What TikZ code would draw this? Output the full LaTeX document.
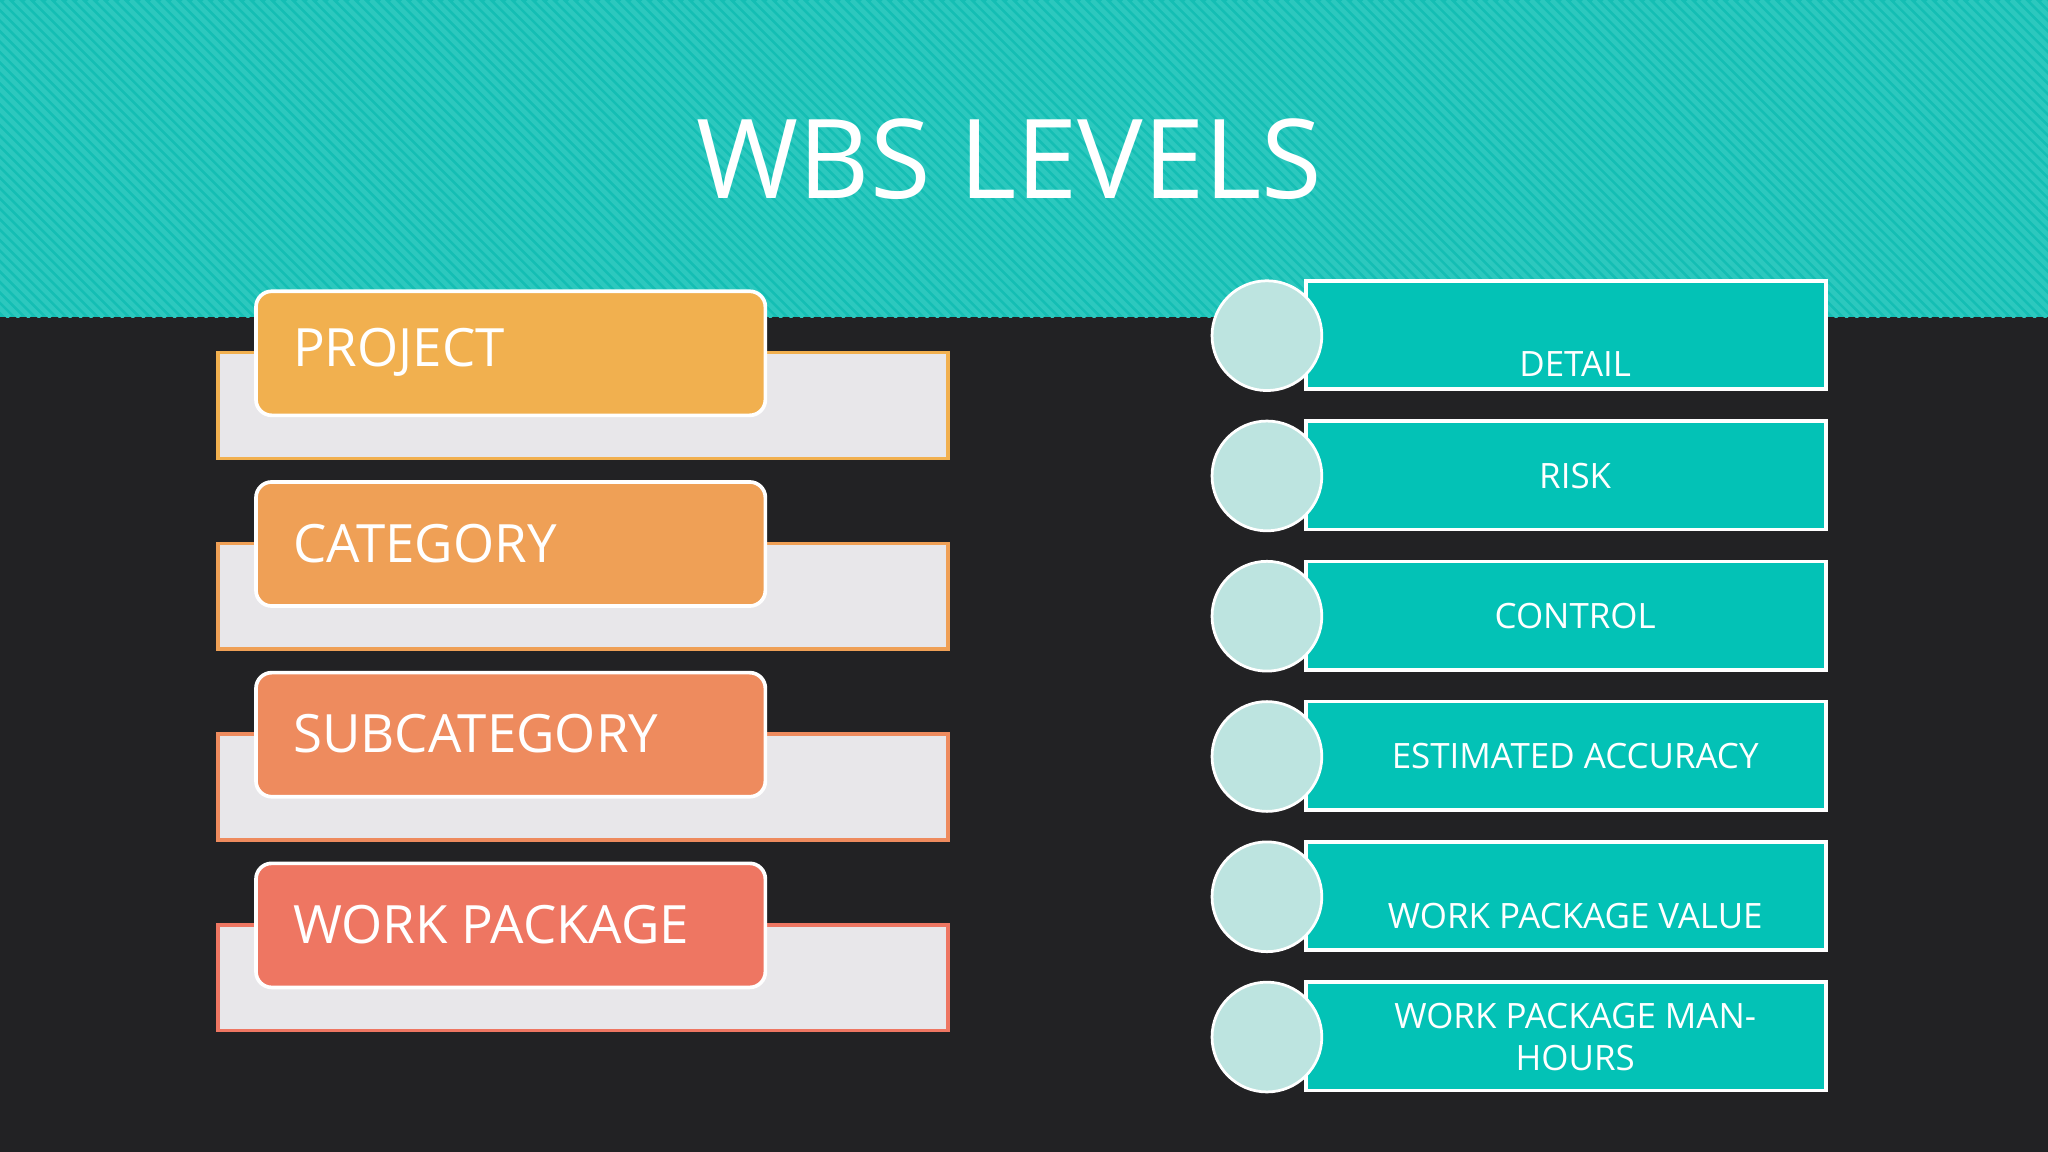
\documentclass[tikz,border=0pt]{standalone}
\usepackage{fontspec}
\setmainfont{Open Sans}
\definecolor{teal1}{HTML}{14BEB4}
\definecolor{teal2}{HTML}{2CC8BE}
\definecolor{boxteal}{HTML}{03C2B6}
\definecolor{dark}{HTML}{222224}
\definecolor{backbox}{HTML}{E8E7EA}
\definecolor{circ}{HTML}{BDE4E0}
\definecolor{cA}{HTML}{F1B04F}
\definecolor{cB}{HTML}{EFA056}
\definecolor{cC}{HTML}{EE8B5E}
\definecolor{cD}{HTML}{EE7662}
\begin{document}
\begin{tikzpicture}[x=0.01cm,y=-0.01cm,
  lvtext/.style={font=\fontsize{11.5pt}{13pt}\selectfont,text=white,anchor=west},
  rtext/.style={font=\fontsize{7.6pt}{9pt}\selectfont,text=white,align=center},
  circstyle/.style={circle,fill=circ,draw=white,line width=0.6pt,minimum size=0.84cm,inner sep=0pt}]
\useasboundingbox (0,0) rectangle (1568,882);
\fill[dark] (0,0) rectangle (1568,882);
\fill[teal1] (0,0) rectangle (1568,243);
\begin{scope}
\clip (0,0) rectangle (1568,243);
\foreach \i in {-300,-292,...,1600} {\draw[teal2,line width=1pt] (\i,0) -- (\i+243,243);}
\end{scope}
\node[font=\fontsize{24pt}{28pt}\selectfont,text=white] (title) at (773,122) {WBS LEVELS};
\foreach \c/\t/\k in {cA/PROJECT/0,cB/CATEGORY/1,cC/SUBCATEGORY/2,cD/WORK PACKAGE/3} {
  \pgfmathsetmacro{\yy}{146*\k}
  \draw[fill=backbox,draw=\c,line width=0.8pt] (167,270+\yy) rectangle (726,351+\yy);
  \draw[fill=\c,draw=white,line width=0.8pt,rounded corners=0.12cm] (196,223+\yy) rectangle (586,318+\yy);
  \node[lvtext] (lv\k) at (212,270+\yy) {\t};
}
\foreach \t/\k/\dy in {DETAIL/0/22,RISK/1/0,CONTROL/2/0,ESTIMATED ACCURACY/3/0,WORK PACKAGE VALUE/4/15,{WORK PACKAGE MAN-\\HOURS}/5/0} {
  \pgfmathsetmacro{\yy}{107.4*\k}
  \draw[fill=boxteal,draw=white,line width=0.8pt] (1000,215+\yy) -- (1398,215+\yy) -- (1398,298+\yy) -- (1000,298+\yy) -- cycle;
  \node[circstyle] (c\k) at (970,257+\yy) {};
  \node[rtext] (r\k) at (1206,257+\yy+\dy) {\t};
}
\end{tikzpicture}
\end{document}
